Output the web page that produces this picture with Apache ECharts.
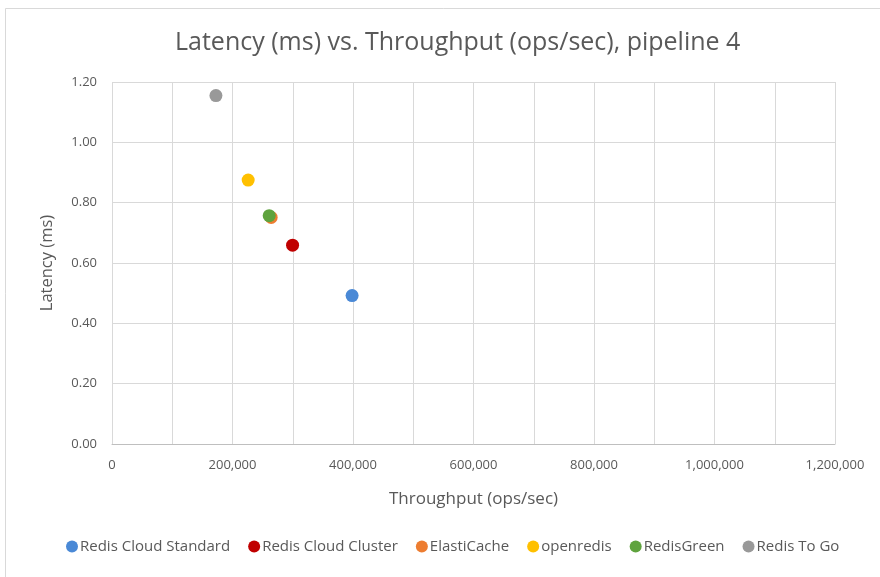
<!DOCTYPE html>
<html>
<head>
<meta charset="utf-8">
<script src="https://cdn.jsdelivr.net/npm/echarts@6/dist/echarts.min.js"></script>
<style>
  html, body { margin: 0; padding: 0; background: #fff; }
  #chart { width: 880px; height: 577px; }
</style>
</head>
<body>
<div id="chart"></div>
<script>
// series names and colours
const seriesNames = ['Redis Cloud Standard', 'Redis Cloud Cluster', 'ElastiCache', 'openredis', 'RedisGreen', 'Redis To Go']
const seriesColors = ['#4A89D6', '#C00000', '#ED7D31', '#FFC000', '#5FA33E', '#999999']

// [throughput (ops/sec), latency (ms)] per service
const throughput = [398500, 299700, 264200, 226000, 260900, 172500]
const latency = [0.492, 0.659, 0.751, 0.875, 0.757, 1.155]

const textColor = '#595959'
const font = "'Liberation Sans Narrow', 'Open Sans', sans-serif"

const chart = echarts.init(document.getElementById('chart'))

const series = seriesNames.map((name, i) => ({
  name: name,
  type: 'scatter',
  symbolSize: 13,
  itemStyle: { color: seriesColors[i], opacity: 1 },
  data: [[throughput[i], latency[i]]]
}))

const option = {
  animation: false,
  backgroundColor: '#fff',
  graphic: [
    {
      type: 'rect',
      shape: { x: 5.5, y: 8.5, width: 900, height: 600 },
      style: { fill: 'none', stroke: '#d9d9d9', lineWidth: 1 }
    }
  ],
  title: {
    text: 'Latency (ms) vs. Throughput (ops/sec), pipeline 4',
    left: 170,
    top: 25,
    textStyle: { color: textColor, fontSize: 25, fontWeight: 'normal', fontFamily: font }
  },
  legend: {
    bottom: 18,
    left: 61,
    itemWidth: 12,
    itemHeight: 12,
    itemGap: 18,
    icon: 'circle',
    textStyle: { color: textColor, fontSize: 15, fontFamily: font, padding: [0, 0, 0, -3] },
    data: seriesNames
  },
  grid: {
    left: 112,
    right: 45,
    top: 82,
    bottom: 133
  },
  xAxis: {
    type: 'value',
    min: 0,
    max: 1200000,
    interval: 100000,
    name: 'Throughput (ops/sec)',
    nameLocation: 'middle',
    nameGap: 47,
    nameTextStyle: { color: textColor, fontSize: 17, fontFamily: font },
    axisLine: { show: true, lineStyle: { color: '#bfbfbf' } },
    axisTick: { show: false },
    axisLabel: {
      color: textColor,
      fontSize: 13,
      fontFamily: font,
      margin: 15,
      formatter: v => (v % 200000 === 0 ? v.toLocaleString('en-US') : '')
    },
    splitLine: { show: true, lineStyle: { color: '#d9d9d9' } }
  },
  yAxis: {
    type: 'value',
    min: 0,
    max: 1.2,
    interval: 0.2,
    name: 'Latency (ms)',
    nameLocation: 'middle',
    nameGap: 56,
    nameTextStyle: { color: textColor, fontSize: 16.5, fontFamily: font },
    axisLine: { show: false },
    axisTick: { show: false },
    axisLabel: {
      color: textColor,
      fontSize: 13,
      fontFamily: font,
      margin: 15,
      formatter: v => v.toFixed(2)
    },
    splitLine: { show: true, lineStyle: { color: '#d9d9d9' } }
  },
  series: series
}

chart.setOption(option)
</script>
</body>
</html>
